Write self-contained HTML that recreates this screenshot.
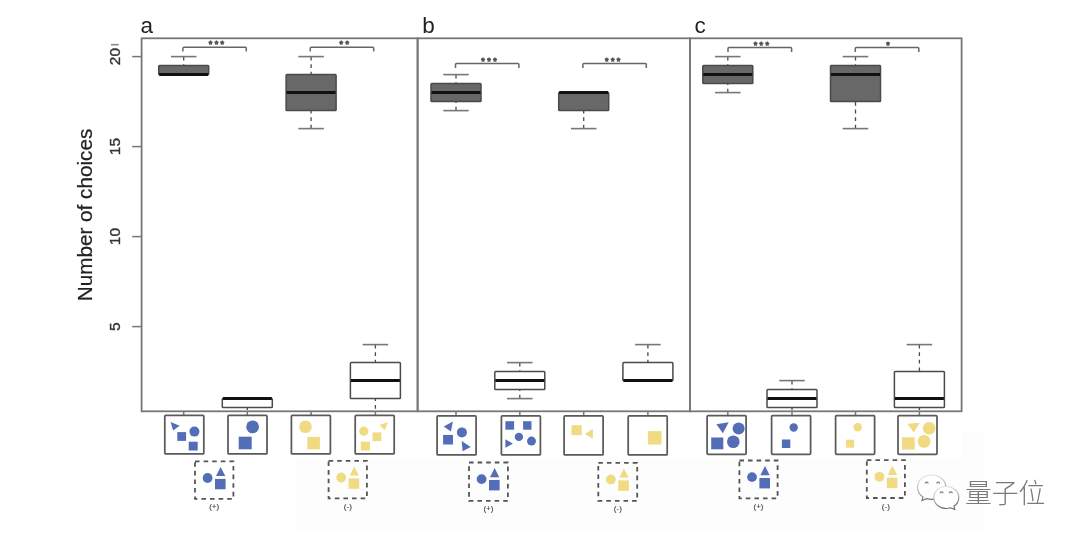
<!DOCTYPE html>
<html><head><meta charset="utf-8"><title>Number of choices</title>
<style>
html,body{margin:0;padding:0;background:#fff;}
body{width:1080px;height:541px;overflow:hidden;}
#w{will-change:transform;width:1080px;height:541px;}
svg{display:block;font-family:"Liberation Sans","Noto Sans CJK SC",sans-serif;}
</style></head><body><div id="w">
<svg width="1080" height="541" viewBox="0 0 1080 541">
<rect x="0" y="0" width="1080" height="541" fill="#fff"/>
<defs><clipPath id="pc"><rect x="100" y="30" width="900" height="381.3"/></clipPath></defs>
<rect x="297" y="458" width="687" height="74" fill="#fdfdfd"/>
<rect x="962" y="431" width="22" height="27" fill="#fdfdfd"/>
<line x1="183.7" y1="56.60" x2="183.7" y2="65.60" stroke="#4a4a4a" stroke-width="1.3" stroke-dasharray="3.8 3.8"/>
<line x1="170.95" y1="56.60" x2="196.45" y2="56.60" stroke="#777777" stroke-width="1.6"/>
<rect x="158.70" y="65.60" width="50.0" height="9.00" fill="#686868" stroke="#4a4a4a" stroke-width="1.5" rx="0.8"/>
<line x1="159.20" y1="74.60" x2="208.20" y2="74.60" stroke="#111" stroke-width="3"/>
<line x1="183.7" y1="411.3" x2="183.7" y2="415.8" stroke="#777777" stroke-width="1.5"/>
<line x1="247.3" y1="407.60" x2="247.3" y2="411.3" stroke="#4a4a4a" stroke-width="1.3" stroke-dasharray="3.8 3.8" stroke-dashoffset="1.3"/>
<rect x="222.30" y="398.60" width="50.0" height="9.00" fill="#fff" stroke="#4a4a4a" stroke-width="1.5" rx="0.8"/>
<line x1="222.80" y1="398.60" x2="271.80" y2="398.60" stroke="#111" stroke-width="3"/>
<line x1="247.3" y1="411.3" x2="247.3" y2="415.8" stroke="#777777" stroke-width="1.5"/>
<line x1="311.1" y1="56.60" x2="311.1" y2="74.60" stroke="#4a4a4a" stroke-width="1.3" stroke-dasharray="3.8 3.8"/>
<line x1="298.35" y1="56.60" x2="323.85" y2="56.60" stroke="#777777" stroke-width="1.6"/>
<line x1="311.1" y1="128.60" x2="311.1" y2="110.60" stroke="#4a4a4a" stroke-width="1.3" stroke-dasharray="3.8 3.8"/>
<line x1="298.35" y1="128.60" x2="323.85" y2="128.60" stroke="#777777" stroke-width="1.6"/>
<rect x="286.10" y="74.60" width="50.0" height="36.00" fill="#686868" stroke="#4a4a4a" stroke-width="1.5" rx="0.8"/>
<line x1="286.60" y1="92.60" x2="335.60" y2="92.60" stroke="#111" stroke-width="3"/>
<line x1="311.1" y1="411.3" x2="311.1" y2="415.8" stroke="#777777" stroke-width="1.5"/>
<line x1="375.4" y1="344.60" x2="375.4" y2="362.60" stroke="#4a4a4a" stroke-width="1.3" stroke-dasharray="3.8 3.8"/>
<line x1="362.65" y1="344.60" x2="388.15" y2="344.60" stroke="#777777" stroke-width="1.6"/>
<line x1="375.4" y1="398.60" x2="375.4" y2="411.3" stroke="#4a4a4a" stroke-width="1.3" stroke-dasharray="3.8 3.8" stroke-dashoffset="1.3"/>
<rect x="350.40" y="362.60" width="50.0" height="36.00" fill="#fff" stroke="#4a4a4a" stroke-width="1.5" rx="0.8"/>
<line x1="350.90" y1="380.60" x2="399.90" y2="380.60" stroke="#111" stroke-width="3"/>
<line x1="375.4" y1="411.3" x2="375.4" y2="415.8" stroke="#777777" stroke-width="1.5"/>
<line x1="456.0" y1="74.60" x2="456.0" y2="83.60" stroke="#4a4a4a" stroke-width="1.3" stroke-dasharray="3.8 3.8"/>
<line x1="443.25" y1="74.60" x2="468.75" y2="74.60" stroke="#777777" stroke-width="1.6"/>
<line x1="456.0" y1="110.60" x2="456.0" y2="101.60" stroke="#4a4a4a" stroke-width="1.3" stroke-dasharray="3.8 3.8"/>
<line x1="443.25" y1="110.60" x2="468.75" y2="110.60" stroke="#777777" stroke-width="1.6"/>
<rect x="431.00" y="83.60" width="50.0" height="18.00" fill="#686868" stroke="#4a4a4a" stroke-width="1.5" rx="0.8"/>
<line x1="431.50" y1="92.60" x2="480.50" y2="92.60" stroke="#111" stroke-width="3"/>
<line x1="456.0" y1="411.3" x2="456.0" y2="415.8" stroke="#777777" stroke-width="1.5"/>
<line x1="519.8" y1="362.60" x2="519.8" y2="371.60" stroke="#4a4a4a" stroke-width="1.3" stroke-dasharray="3.8 3.8"/>
<line x1="507.05" y1="362.60" x2="532.55" y2="362.60" stroke="#777777" stroke-width="1.6"/>
<line x1="519.8" y1="398.60" x2="519.8" y2="389.60" stroke="#4a4a4a" stroke-width="1.3" stroke-dasharray="3.8 3.8"/>
<line x1="507.05" y1="398.60" x2="532.55" y2="398.60" stroke="#777777" stroke-width="1.6"/>
<rect x="494.80" y="371.60" width="50.0" height="18.00" fill="#fff" stroke="#4a4a4a" stroke-width="1.5" rx="0.8"/>
<line x1="495.30" y1="380.60" x2="544.30" y2="380.60" stroke="#111" stroke-width="3"/>
<line x1="519.8" y1="411.3" x2="519.8" y2="415.8" stroke="#777777" stroke-width="1.5"/>
<line x1="583.7" y1="128.60" x2="583.7" y2="110.60" stroke="#4a4a4a" stroke-width="1.3" stroke-dasharray="3.8 3.8"/>
<line x1="570.95" y1="128.60" x2="596.45" y2="128.60" stroke="#777777" stroke-width="1.6"/>
<rect x="558.70" y="92.60" width="50.0" height="18.00" fill="#686868" stroke="#4a4a4a" stroke-width="1.5" rx="0.8"/>
<line x1="559.20" y1="92.60" x2="608.20" y2="92.60" stroke="#111" stroke-width="3"/>
<line x1="583.7" y1="411.3" x2="583.7" y2="415.8" stroke="#777777" stroke-width="1.5"/>
<line x1="647.9" y1="344.60" x2="647.9" y2="362.60" stroke="#4a4a4a" stroke-width="1.3" stroke-dasharray="3.8 3.8"/>
<line x1="635.15" y1="344.60" x2="660.65" y2="344.60" stroke="#777777" stroke-width="1.6"/>
<rect x="622.90" y="362.60" width="50.0" height="18.00" fill="#fff" stroke="#4a4a4a" stroke-width="1.5" rx="0.8"/>
<line x1="623.40" y1="380.60" x2="672.40" y2="380.60" stroke="#111" stroke-width="3"/>
<line x1="647.9" y1="411.3" x2="647.9" y2="415.8" stroke="#777777" stroke-width="1.5"/>
<line x1="727.8" y1="56.60" x2="727.8" y2="65.60" stroke="#4a4a4a" stroke-width="1.3" stroke-dasharray="3.8 3.8"/>
<line x1="715.05" y1="56.60" x2="740.55" y2="56.60" stroke="#777777" stroke-width="1.6"/>
<line x1="727.8" y1="92.60" x2="727.8" y2="83.60" stroke="#4a4a4a" stroke-width="1.3" stroke-dasharray="3.8 3.8"/>
<line x1="715.05" y1="92.60" x2="740.55" y2="92.60" stroke="#777777" stroke-width="1.6"/>
<rect x="702.80" y="65.60" width="50.0" height="18.00" fill="#686868" stroke="#4a4a4a" stroke-width="1.5" rx="0.8"/>
<line x1="703.30" y1="74.60" x2="752.30" y2="74.60" stroke="#111" stroke-width="3"/>
<line x1="727.8" y1="411.3" x2="727.8" y2="415.8" stroke="#777777" stroke-width="1.5"/>
<line x1="792.0" y1="380.60" x2="792.0" y2="389.60" stroke="#4a4a4a" stroke-width="1.3" stroke-dasharray="3.8 3.8"/>
<line x1="779.25" y1="380.60" x2="804.75" y2="380.60" stroke="#777777" stroke-width="1.6"/>
<line x1="792.0" y1="407.60" x2="792.0" y2="411.3" stroke="#4a4a4a" stroke-width="1.3" stroke-dasharray="3.8 3.8" stroke-dashoffset="1.3"/>
<rect x="767.00" y="389.60" width="50.0" height="18.00" fill="#fff" stroke="#4a4a4a" stroke-width="1.5" rx="0.8"/>
<line x1="767.50" y1="398.60" x2="816.50" y2="398.60" stroke="#111" stroke-width="3"/>
<line x1="792.0" y1="411.3" x2="792.0" y2="415.8" stroke="#777777" stroke-width="1.5"/>
<line x1="855.5" y1="56.60" x2="855.5" y2="65.60" stroke="#4a4a4a" stroke-width="1.3" stroke-dasharray="3.8 3.8"/>
<line x1="842.75" y1="56.60" x2="868.25" y2="56.60" stroke="#777777" stroke-width="1.6"/>
<line x1="855.5" y1="128.60" x2="855.5" y2="101.60" stroke="#4a4a4a" stroke-width="1.3" stroke-dasharray="3.8 3.8"/>
<line x1="842.75" y1="128.60" x2="868.25" y2="128.60" stroke="#777777" stroke-width="1.6"/>
<rect x="830.50" y="65.60" width="50.0" height="36.00" fill="#686868" stroke="#4a4a4a" stroke-width="1.5" rx="0.8"/>
<line x1="831.00" y1="74.60" x2="880.00" y2="74.60" stroke="#111" stroke-width="3"/>
<line x1="855.5" y1="411.3" x2="855.5" y2="415.8" stroke="#777777" stroke-width="1.5"/>
<line x1="919.4" y1="344.60" x2="919.4" y2="371.60" stroke="#4a4a4a" stroke-width="1.3" stroke-dasharray="3.8 3.8"/>
<line x1="906.65" y1="344.60" x2="932.15" y2="344.60" stroke="#777777" stroke-width="1.6"/>
<line x1="919.4" y1="407.60" x2="919.4" y2="411.3" stroke="#4a4a4a" stroke-width="1.3" stroke-dasharray="3.8 3.8" stroke-dashoffset="1.3"/>
<rect x="894.40" y="371.60" width="50.0" height="36.00" fill="#fff" stroke="#4a4a4a" stroke-width="1.5" rx="0.8"/>
<line x1="894.90" y1="398.60" x2="943.90" y2="398.60" stroke="#111" stroke-width="3"/>
<line x1="919.4" y1="411.3" x2="919.4" y2="415.8" stroke="#777777" stroke-width="1.5"/>
<rect x="141.6" y="38.3" width="276.0" height="373.0" fill="none" stroke="#777777" stroke-width="1.8"/>
<rect x="417.6" y="38.3" width="272.4" height="373.0" fill="none" stroke="#777777" stroke-width="1.8"/>
<rect x="690.0" y="38.3" width="271.6" height="373.0" fill="none" stroke="#777777" stroke-width="1.8"/>
<line x1="132.2" y1="56.60" x2="141.6" y2="56.60" stroke="#777777" stroke-width="1.5"/>
<text transform="translate(120.3 56.60) rotate(-90)" text-anchor="middle" font-size="15.5" fill="#333" stroke="#333" stroke-width="0.35">20</text>
<line x1="132.2" y1="146.60" x2="141.6" y2="146.60" stroke="#777777" stroke-width="1.5"/>
<text transform="translate(120.3 146.60) rotate(-90)" text-anchor="middle" font-size="15.5" fill="#333" stroke="#333" stroke-width="0.35">15</text>
<line x1="132.2" y1="236.60" x2="141.6" y2="236.60" stroke="#777777" stroke-width="1.5"/>
<text transform="translate(120.3 236.60) rotate(-90)" text-anchor="middle" font-size="15.5" fill="#333" stroke="#333" stroke-width="0.35">10</text>
<line x1="132.2" y1="326.60" x2="141.6" y2="326.60" stroke="#777777" stroke-width="1.5"/>
<text transform="translate(120.3 326.60) rotate(-90)" text-anchor="middle" font-size="15.5" fill="#333" stroke="#333" stroke-width="0.35">5</text>
<line x1="111" y1="44.7" x2="118.7" y2="44.7" stroke="#888" stroke-width="1.6"/>
<text transform="translate(91.7 215.0) rotate(-90)" text-anchor="middle" font-size="20.7" fill="#222" stroke="#222" stroke-width="0.2">Number of choices</text>
<text x="140.6" y="32.9" font-size="22.5" fill="#222">a</text>
<text x="422.2" y="33.1" font-size="22.5" fill="#222">b</text>
<text x="694.6" y="33.4" font-size="22.5" fill="#222">c</text>
<path d="M182.9 51.5 V48.2 Q182.9 47.2 183.9 47.2 H245.3 Q246.3 47.2 246.3 48.2 V51.5" fill="none" stroke="#666" stroke-width="1.5"/>
<text x="217.6" y="47.3" text-anchor="middle" font-size="9" fill="#555" stroke="#555" stroke-width="1.05" stroke-linejoin="round" letter-spacing="2.4">***</text>
<path d="M310.3 51.5 V48.2 Q310.3 47.2 311.3 47.2 H372.7 Q373.7 47.2 373.7 48.2 V51.5" fill="none" stroke="#666" stroke-width="1.5"/>
<text x="345.4" y="47.3" text-anchor="middle" font-size="9" fill="#555" stroke="#555" stroke-width="1.05" stroke-linejoin="round" letter-spacing="2.4">**</text>
<path d="M455.5 67.9 V64.6 Q455.5 63.6 456.5 63.6 H517.9 Q518.9 63.6 518.9 64.6 V67.9" fill="none" stroke="#666" stroke-width="1.5"/>
<text x="490.2" y="63.7" text-anchor="middle" font-size="9" fill="#555" stroke="#555" stroke-width="1.05" stroke-linejoin="round" letter-spacing="2.4">***</text>
<path d="M582.9 67.9 V64.6 Q582.9 63.6 583.9 63.6 H645.3 Q646.3 63.6 646.3 64.6 V67.9" fill="none" stroke="#666" stroke-width="1.5"/>
<text x="613.9" y="63.7" text-anchor="middle" font-size="9" fill="#555" stroke="#555" stroke-width="1.05" stroke-linejoin="round" letter-spacing="2.4">***</text>
<path d="M728.0 51.9 V48.6 Q728.0 47.6 729.0 47.6 H790.6 Q791.6 47.6 791.6 48.6 V51.9" fill="none" stroke="#666" stroke-width="1.5"/>
<text x="762.5" y="47.7" text-anchor="middle" font-size="9" fill="#555" stroke="#555" stroke-width="1.05" stroke-linejoin="round" letter-spacing="2.4">***</text>
<path d="M855.3 51.9 V48.6 Q855.3 47.6 856.3 47.6 H917.8 Q918.8 47.6 918.8 48.6 V51.9" fill="none" stroke="#666" stroke-width="1.5"/>
<text x="889.2" y="47.7" text-anchor="middle" font-size="9" fill="#555" stroke="#555" stroke-width="1.05" stroke-linejoin="round" letter-spacing="2.4">*</text>
<rect x="164.80" y="415.3" width="39" height="38.6" fill="#fff" stroke="#5a5a5a" stroke-width="1.75" rx="1"/>
<rect x="228.00" y="415.3" width="39" height="38.6" fill="#fff" stroke="#5a5a5a" stroke-width="1.75" rx="1"/>
<rect x="291.40" y="415.3" width="39" height="38.6" fill="#fff" stroke="#5a5a5a" stroke-width="1.75" rx="1"/>
<rect x="355.20" y="415.3" width="39" height="38.6" fill="#fff" stroke="#5a5a5a" stroke-width="1.75" rx="1"/>
<rect x="437.10" y="415.9" width="39" height="39.0" fill="#fff" stroke="#5a5a5a" stroke-width="1.75" rx="1"/>
<rect x="501.40" y="415.9" width="39" height="39.0" fill="#fff" stroke="#5a5a5a" stroke-width="1.75" rx="1"/>
<rect x="564.10" y="415.9" width="39" height="39.0" fill="#fff" stroke="#5a5a5a" stroke-width="1.75" rx="1"/>
<rect x="628.20" y="415.9" width="39" height="39.0" fill="#fff" stroke="#5a5a5a" stroke-width="1.75" rx="1"/>
<rect x="707.10" y="415.5" width="39" height="38.8" fill="#fff" stroke="#5a5a5a" stroke-width="1.75" rx="1"/>
<rect x="771.60" y="415.5" width="39" height="38.8" fill="#fff" stroke="#5a5a5a" stroke-width="1.75" rx="1"/>
<rect x="835.60" y="415.5" width="39" height="38.8" fill="#fff" stroke="#5a5a5a" stroke-width="1.75" rx="1"/>
<rect x="898.00" y="415.5" width="39" height="38.8" fill="#fff" stroke="#5a5a5a" stroke-width="1.75" rx="1"/>
<polygon points="170.6,421.9 179.7,425.7 173.1,430.5" fill="#546db7"/>
<circle cx="194.4" cy="431.6" r="5.0" fill="#546db7"/>
<rect x="177.3" y="432.1" width="8.80" height="8.80" fill="#546db7"/>
<rect x="188.7" y="441.7" width="9.00" height="8.80" fill="#546db7"/>
<circle cx="252.6" cy="426.9" r="6.4" fill="#546db7"/>
<rect x="238.7" y="436.7" width="13.00" height="12.60" fill="#546db7"/>
<circle cx="305.5" cy="426.7" r="6.3" fill="#f0da82"/>
<rect x="307.3" y="436.9" width="12.60" height="12.40" fill="#f0da82"/>
<polygon points="379.5,424.9 387.9,421.9 384.9,430.3" fill="#f0da82"/>
<circle cx="363.8" cy="431.2" r="4.6" fill="#f0da82"/>
<rect x="372.6" y="432.4" width="8.70" height="8.70" fill="#f0da82"/>
<rect x="360.8" y="441.7" width="9.10" height="8.80" fill="#f0da82"/>
<polygon points="443.7,426.4 452.9,421.6 450.9,431.5" fill="#546db7"/>
<circle cx="461.9" cy="432.4" r="5.0" fill="#546db7"/>
<rect x="443.1" y="434.9" width="9.90" height="9.60" fill="#546db7"/>
<polygon points="461.7,441.1 470.7,446.9 462.6,451.3" fill="#546db7"/>
<rect x="505.4" y="421.2" width="8.70" height="8.50" fill="#546db7"/>
<rect x="523.1" y="421.2" width="8.40" height="8.50" fill="#546db7"/>
<circle cx="518.9" cy="436.9" r="4.2" fill="#546db7"/>
<circle cx="531.5" cy="441.1" r="4.5" fill="#546db7"/>
<polygon points="505.4,439.3 512.9,443.8 505.4,447.7" fill="#546db7"/>
<rect x="571.5" y="425.2" width="10.20" height="9.90" fill="#f0da82"/>
<polygon points="584.9,433.9 592.9,428.8 592.9,438.7" fill="#f0da82"/>
<rect x="647.9" y="431.2" width="13.60" height="13.30" fill="#f0da82"/>
<polygon points="716.4,424.3 728.7,422.2 722.9,433.3" fill="#546db7"/>
<circle cx="738.6" cy="428.5" r="6.0" fill="#546db7"/>
<rect x="711.2" y="437.5" width="12.10" height="11.80" fill="#546db7"/>
<circle cx="733.3" cy="441.7" r="6.3" fill="#546db7"/>
<circle cx="793.7" cy="427.5" r="4.2" fill="#546db7"/>
<rect x="781.9" y="439.5" width="8.40" height="8.50" fill="#546db7"/>
<circle cx="857.7" cy="427.3" r="4.2" fill="#f0da82"/>
<rect x="846.1" y="439.7" width="8.10" height="8.00" fill="#f0da82"/>
<polygon points="907.2,423.7 919.8,422.7 913.8,432.4" fill="#f0da82"/>
<circle cx="929.2" cy="428.2" r="6.3" fill="#f0da82"/>
<rect x="902.0" y="437.3" width="12.70" height="12.20" fill="#f0da82"/>
<circle cx="924.1" cy="441.4" r="6.4" fill="#f0da82"/>
<rect x="195.00" y="461.40" width="38.40" height="37.40" fill="none" stroke="#555" stroke-width="1.8" stroke-dasharray="4.6 4.0"/>
<circle cx="207.6" cy="478.0" r="4.9" fill="#546db7"/>
<polygon points="216.0,476.09999999999997 220.6,466.9 225.3,476.09999999999997" fill="#546db7"/>
<rect x="215.0" y="478.9" width="10.60" height="10.40" fill="#546db7"/>
<text x="214.2" y="509.3" text-anchor="middle" font-size="8" fill="#4a4a4a" stroke="#4a4a4a" stroke-width="0.15">(+)</text>
<rect x="328.60" y="460.90" width="38.30" height="37.40" fill="none" stroke="#555" stroke-width="1.8" stroke-dasharray="4.6 4.0"/>
<circle cx="341.20000000000005" cy="477.5" r="4.9" fill="#f0da82"/>
<polygon points="349.6,475.59999999999997 354.20000000000005,466.4 358.90000000000003,475.59999999999997" fill="#f0da82"/>
<rect x="348.6" y="478.4" width="10.60" height="10.40" fill="#f0da82"/>
<text x="347.8" y="508.8" text-anchor="middle" font-size="8" fill="#4a4a4a" stroke="#4a4a4a" stroke-width="0.15">(-)</text>
<rect x="469.00" y="462.50" width="38.90" height="38.40" fill="none" stroke="#555" stroke-width="1.8" stroke-dasharray="4.6 4.0"/>
<circle cx="481.6" cy="479.1" r="4.9" fill="#546db7"/>
<polygon points="490.0,477.2 494.6,468.0 499.3,477.2" fill="#546db7"/>
<rect x="489.0" y="480.0" width="10.60" height="10.40" fill="#546db7"/>
<text x="488.4" y="511.4" text-anchor="middle" font-size="8" fill="#4a4a4a" stroke="#4a4a4a" stroke-width="0.15">(+)</text>
<rect x="598.30" y="462.90" width="38.90" height="38.00" fill="none" stroke="#555" stroke-width="1.8" stroke-dasharray="4.6 4.0"/>
<circle cx="610.9" cy="479.5" r="4.9" fill="#f0da82"/>
<polygon points="619.3,477.59999999999997 623.9,468.4 628.5999999999999,477.59999999999997" fill="#f0da82"/>
<rect x="618.3" y="480.4" width="10.60" height="10.40" fill="#f0da82"/>
<text x="617.8" y="511.4" text-anchor="middle" font-size="8" fill="#4a4a4a" stroke="#4a4a4a" stroke-width="0.15">(-)</text>
<rect x="739.40" y="460.50" width="38.20" height="37.80" fill="none" stroke="#555" stroke-width="1.8" stroke-dasharray="4.6 4.0"/>
<circle cx="752.0" cy="477.1" r="4.9" fill="#546db7"/>
<polygon points="760.4,475.2 765.0,466.0 769.6999999999999,475.2" fill="#546db7"/>
<rect x="759.4" y="478.0" width="10.60" height="10.40" fill="#546db7"/>
<text x="758.5" y="508.8" text-anchor="middle" font-size="8" fill="#4a4a4a" stroke="#4a4a4a" stroke-width="0.15">(+)</text>
<rect x="866.80" y="460.20" width="38.10" height="37.80" fill="none" stroke="#555" stroke-width="1.8" stroke-dasharray="4.6 4.0"/>
<circle cx="879.4" cy="476.8" r="4.9" fill="#f0da82"/>
<polygon points="887.8,474.9 892.4,465.7 897.0999999999999,474.9" fill="#f0da82"/>
<rect x="886.8" y="477.7" width="10.60" height="10.40" fill="#f0da82"/>
<text x="885.8" y="508.5" text-anchor="middle" font-size="8" fill="#4a4a4a" stroke="#4a4a4a" stroke-width="0.15">(-)</text>
<defs><linearGradient id="wg" x1="0" y1="0" x2="0.3" y2="1"><stop offset="0" stop-color="#ececec"/><stop offset="0.5" stop-color="#bdbdbd"/><stop offset="1" stop-color="#707070"/></linearGradient></defs>
<g fill="#fff" stroke="url(#wg)" stroke-width="1.2">
<path d="M931.7 475 C923.5 475 917.5 480.6 917.5 487.5 C917.5 491.4 919.6 494.8 923 497 L922 500.5 L926.5 498.6 C928.2 499.1 929.9 499.4 931.7 499.4 C939.9 499.4 945.9 493.8 945.9 487.5 C945.9 480.6 939.9 475 931.7 475 Z"/>
<path d="M946.3 486.5 C939.3 486.5 933.8 491.4 933.8 497.5 C933.8 503.6 939.3 508.5 946.3 508.5 C947.8 508.5 949.3 508.2 950.6 507.8 L954.8 509.5 L953.9 506.3 C956.9 504.3 958.8 501.1 958.8 497.5 C958.8 491.4 953.3 486.5 946.3 486.5 Z"/>
</g>
<g fill="none" stroke="#7a7a7a" stroke-width="1.25"><path d="M925.2 483.6 A1.45 1.45 0 0 1 928.1 483.6"/><path d="M936.7 483.6 A1.45 1.45 0 0 1 939.6 483.6"/><path d="M940.1 493.3 A1.45 1.45 0 0 1 943.0 493.3"/><path d="M949.3 493.3 A1.45 1.45 0 0 1 952.2 493.3"/></g>
<text x="965" y="503.3" font-family="'Liberation Sans','Noto Sans CJK SC',sans-serif" font-weight="300" font-size="26.8" fill="#7a7a7a">量子位</text>
</svg></div>
</body></html>
